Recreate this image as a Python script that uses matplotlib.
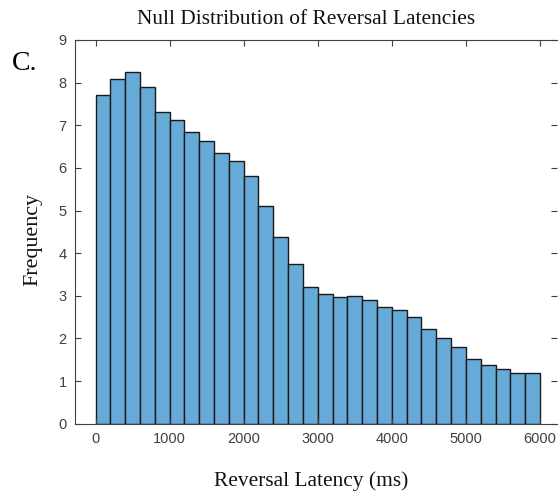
import numpy as np
import matplotlib
matplotlib.use("Agg")
import matplotlib.pyplot as plt

# histogram of null reversal latencies, 200 ms bins
bin_left = np.arange(0, 6000, 200)
bin_width = 200
counts = [7.71, 8.09, 8.25, 7.90, 7.32, 7.12, 6.85, 6.63, 6.35, 6.15,
          5.82, 5.10, 4.38, 3.75, 3.21, 3.05, 2.98, 3.00, 2.90, 2.74,
          2.66, 2.50, 2.21, 2.00, 1.80, 1.52, 1.37, 1.28, 1.20, 1.20]
xticks = [0, 1000, 2000, 3000, 4000, 5000, 6000]
yticks = list(range(10))

title = "Null Distribution of Reversal Latencies"
xlabel = "Reversal Latency (ms)"
ylabel = "Frequency"
panel = "C."

serif = ["Liberation Serif", "DejaVu Serif"]
sans = ["Liberation Sans", "DejaVu Sans"]
axcol = "#404040"

fig = plt.figure(figsize=(5.58, 4.93), dpi=100)
ax = fig.add_axes([0.1344, 0.1406, 0.8638, 0.7783])

ax.bar(bin_left, counts, width=bin_width, align="edge",
       color="#66AAD7", edgecolor="#1a1a1a", linewidth=1.0)

ax.set_xlim(-277, 6230)
ax.set_ylim(0, 9)
ax.set_xticks(xticks)
ax.set_yticks(yticks)
ax.tick_params(direction="in", top=True, right=True, length=4, width=0.8,
               color=axcol, labelcolor="#404040", labelsize=10.5, pad=6)
for lab in ax.get_xticklabels() + ax.get_yticklabels():
    lab.set_family(sans)

for s in ["left", "bottom", "top"]:
    ax.spines[s].set_color(axcol)
    ax.spines[s].set_linewidth(0.8)
ax.spines["right"].set_visible(False)

fig.text(306 / 558, 1 - 20 / 493, title, ha="center", va="center",
         fontsize=15.4, family=serif, color="#111111")
fig.text(311 / 558, 1 - 481 / 493, xlabel, ha="center", va="center",
         fontsize=15.4, family=serif, color="#111111")
fig.text(33 / 558, 1 - 239 / 493, ylabel, ha="center", va="center",
         rotation=90, fontsize=15.8, family=serif, color="#111111")
fig.text(25 / 558, 1 - 64 / 493, panel, ha="center", va="center",
         fontsize=20, family=serif, color="#000000")

fig.savefig("out.png", dpi=100)
